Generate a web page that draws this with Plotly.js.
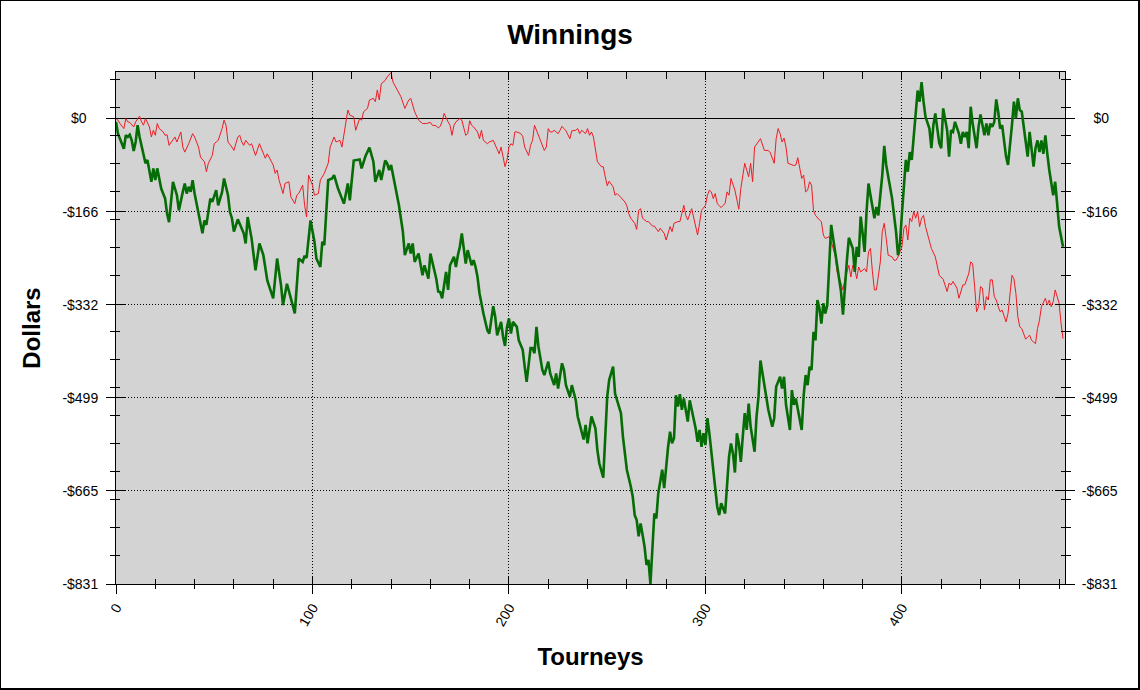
<!DOCTYPE html>
<html>
<head>
<meta charset="utf-8">
<script src="https://cdn.plot.ly/plotly-3.0.1.min.js"></script>
<style>
    html, body { margin: 0; padding: 0; background: #ffffff; }
    #wrap { position: relative; width: 1140px; height: 690px; }
    #chart { width: 1140px; height: 690px; }
    #frame {
        position: absolute; left: 0; top: 0; right: 0; bottom: 0;
        border-left: 1px solid #000; border-top: 1px solid #000;
        border-right: 2px solid #000; border-bottom: 2px solid #000;
        pointer-events: none;
    }
</style>
</head>
<body>
<div id="wrap">
    <div id="chart"></div>
    <div id="frame"></div>
</div>
<script>
// Running total (in dollars) after each tourney: [tourney, dollars].
const greenPoints = [
    [0,-6],[1,-27],[4,-54],[5,-30],[6,-33],[7,-29],[8,-39],[9,-58],[10,-42],[11,-12],
    [12,-33],[13,-48],[15,-80],[16,-74],[18,-113],[19,-89],[20,-110],[21,-89],[22,-107],[23,-125],
    [25,-143],[26,-170],[27,-185],[28,-149],[29,-113],[31,-137],[32,-164],[34,-131],[35,-116],[36,-134],
    [37,-122],[38,-131],[39,-110],[40,-134],[42,-167],[44,-205],[45,-182],[46,-190],[48,-143],[49,-149],
    [51,-128],[52,-155],[54,-131],[55,-107],[57,-137],[58,-167],[59,-178],[60,-202],[62,-180],[65,-205],
    [66,-223],[67,-176],[69,-214],[71,-271],[73,-223],[75,-244],[77,-289],[80,-321],[82,-250],[84,-298],
    [85,-333],[87,-295],[89,-321],[91,-348],[93,-250],[95,-256],[96,-245],[97,-249],[99,-182],[101,-220],
    [102,-250],[104,-265],[105,-220],[106,-226],[108,-110],[110,-107],[111,-101],[113,-125],[115,-143],[116,-152],
    [118,-116],[119,-146],[121,-75],[124,-73],[125,-89],[127,-67],[129,-52],[131,-77],[132,-113],[134,-92],
    [135,-110],[137,-75],[138,-80],[139,-92],[140,-83],[144,-155],[146,-202],[147,-244],[149,-223],[150,-241],
    [151,-223],[152,-256],[154,-241],[156,-280],[157,-262],[159,-286],[160,-241],[162,-271],[163,-286],[164,-309],
    [165,-310],[166,-321],[168,-274],[169,-306],[170,-262],[172,-247],[173,-265],[174,-244],[175,-229],[176,-205],
    [177,-232],[178,-259],[179,-235],[181,-262],[182,-253],[183,-265],[184,-283],[185,-312],[187,-348],[189,-378],
    [190,-384],[191,-354],[192,-335],[193,-354],[194,-387],[196,-363],[197,-390],[198,-406],[199,-372],[200,-357],
    [201,-384],[202,-363],[204,-372],[205,-396],[207,-413],[208,-443],[209,-470],[211,-410],[212,-410],[213,-419],
    [214,-372],[215,-407],[216,-425],[217,-449],[218,-458],[220,-434],[221,-455],[223,-476],[224,-455],[225,-482],
    [227,-437],[228,-449],[229,-476],[231,-497],[232,-476],[234,-503],[235,-532],[237,-562],[238,-573],[239,-547],
    [240,-580],[242,-532],[244,-553],[245,-592],[246,-616],[248,-641],[249,-562],[250,-497],[251,-467],[253,-443],
    [254,-491],[255,-503],[257,-526],[258,-568],[259,-598],[260,-627],[262,-657],[263,-675],[264,-708],[265,-717],
    [266,-746],[267,-723],[268,-743],[269,-764],[270,-797],[271,-788],[272,-831],[273,-776],[274,-705],[275,-714],
    [276,-669],[278,-627],[279,-660],[281,-586],[282,-559],[283,-580],[284,-571],[285,-494],[286,-514],[287,-492],
    [288,-520],[289,-500],[291,-541],[292,-503],[293,-520],[295,-553],[296,-577],[297,-556],[298,-586],[299,-562],
    [300,-583],[301,-535],[302,-562],[303,-592],[304,-627],[305,-663],[306,-693],[307,-708],[308,-687],[310,-705],
    [311,-645],[312,-604],[313,-580],[314,-598],[315,-632],[316,-562],[317,-580],[318,-613],[319,-568],[320,-526],
    [321,-556],[322,-509],[323,-550],[325,-595],[326,-532],[327,-497],[328,-432],[329,-455],[331,-497],[332,-520],
    [334,-550],[335,-535],[336,-479],[338,-461],[339,-482],[340,-461],[341,-511],[343,-556],[344,-485],[345,-511],
    [346,-500],[347,-517],[349,-556],[350,-494],[351,-458],[352,-476],[353,-443],[354,-449],[355,-381],[356,-396],
    [357,-324],[358,-339],[359,-366],[360,-330],[361,-348],[362,-333],[363,-256],[364,-190],[365,-214],[367,-265],
    [368,-285],[369,-309],[370,-350],[371,-291],[372,-253],[373,-213],[375,-232],[376,-274],[377,-229],[378,-247],
    [379,-175],[380,-205],[381,-238],[382,-166],[383,-116],[384,-137],[386,-178],[387,-158],[388,-173],[390,-101],
    [391,-49],[392,-83],[394,-125],[395,-143],[396,-173],[397,-202],[398,-244],[399,-223],[400,-170],[401,-119],
    [402,-74],[403,-95],[404,-60],[405,-74],[406,-36],[407,12],[408,50],[409,30],[410,65],[411,30],
    [412,3],[414,-18],[415,-53],[416,-12],[417,9],[418,-18],[419,-44],[420,-53],[421,18],[423,-21],
    [424,-68],[425,-21],[426,-24],[427,-6],[429,-27],[430,-45],[431,-24],[432,-33],[433,-24],[434,-53],
    [435,21],[436,-9],[438,-53],[439,-15],[440,7],[441,-12],[442,-30],[443,-9],[444,-30],[445,-9],
    [446,-15],[447,-6],[448,34],[449,12],[450,-18],[451,-12],[452,-45],[453,-68],[454,-83],[455,-51],
    [456,-12],[457,30],[458,0],[459,36],[460,15],[461,12],[462,-12],[463,-36],[464,-68],[465,-24],
    [466,-56],[467,-86],[468,-53],[469,-39],[470,-60],[471,-39],[472,-63],[473,-30],[474,-63],[475,-92],
    [477,-137],[478,-113],[479,-152],[480,-193],[482,-229]
];

const redPoints = [
    [0,0],[1,-3],[2,-9],[4,-18],[5,0],[6,-6],[7,-7],[9,-15],[10,-6],[12,4],
    [13,-6],[14,-12],[15,0],[17,-15],[18,-33],[19,-21],[20,-30],[21,-9],[22,-18],[24,-24],
    [25,-30],[26,-29],[27,-48],[29,-39],[30,-33],[31,-42],[33,-24],[34,-51],[35,-60],[37,-45],
    [39,-27],[40,-33],[42,-51],[43,-69],[45,-77],[46,-95],[47,-80],[49,-66],[50,-45],[51,-42],
    [52,-39],[54,-18],[55,-3],[56,-12],[57,-42],[59,-51],[60,-57],[62,-33],[63,-30],[64,-42],
    [65,-48],[66,-39],[68,-48],[69,-45],[70,-54],[71,-66],[73,-45],[74,-54],[76,-71],[77,-63],
    [79,-77],[80,-83],[81,-98],[82,-92],[83,-110],[85,-134],[86,-116],[88,-113],[89,-140],[91,-152],
    [92,-137],[93,-134],[95,-119],[96,-155],[97,-176],[98,-101],[100,-119],[101,-137],[103,-134],[104,-110],
    [106,-98],[108,-80],[109,-51],[111,-33],[112,-42],[114,-39],[115,-51],[116,-30],[118,15],[119,6],
    [121,3],[122,-21],[124,0],[125,-3],[126,12],[128,18],[129,33],[131,36],[132,30],[133,51],
    [134,33],[135,62],[137,68],[138,74],[140,82],[141,65],[143,51],[145,39],[147,18],[149,33],
    [150,36],[152,12],[154,-3],[156,-9],[158,-9],[160,-7],[161,-12],[163,-13],[164,-17],[165,-14],
    [166,-5],[167,9],[169,-6],[170,-12],[171,-30],[172,-12],[173,-6],[175,0],[176,-3],[178,-30],
    [179,-27],[180,-4],[181,-12],[182,-15],[184,-24],[185,-36],[186,-21],[187,-39],[189,-45],[190,-42],
    [192,-39],[193,-48],[195,-63],[196,-51],[197,-71],[198,-86],[199,-74],[200,-51],[201,-45],[202,-48],
    [203,-24],[204,-24],[206,-27],[207,-32],[208,-51],[210,-66],[211,-48],[212,-39],[213,-12],[214,-21],
    [216,-39],[217,-48],[218,-57],[219,-51],[220,-18],[221,-24],[222,-24],[223,-21],[225,-27],[226,-21],
    [227,-14],[228,-18],[229,-22],[231,-36],[232,-22],[234,-21],[235,-18],[236,-27],[237,-21],[239,-27],
    [240,-18],[241,-30],[242,-24],[243,-33],[244,-54],[245,-77],[247,-86],[248,-86],[249,-104],[250,-120],
    [251,-112],[253,-122],[254,-137],[255,-134],[257,-141],[259,-149],[260,-156],[261,-170],[262,-178],[264,-187],
    [265,-198],[266,-164],[267,-161],[268,-178],[270,-184],[271,-184],[273,-192],[274,-192],[276,-202],[277,-196],
    [279,-205],[280,-217],[282,-193],[283,-202],[284,-187],[286,-184],[287,-184],[289,-155],[290,-173],[291,-181],
    [293,-161],[294,-175],[295,-193],[296,-208],[297,-187],[298,-164],[300,-155],[301,-137],[302,-128],[303,-131],
    [304,-143],[305,-134],[306,-152],[308,-159],[309,-155],[310,-152],[311,-131],[312,-137],[313,-107],[314,-116],
    [315,-128],[317,-162],[318,-125],[320,-80],[321,-92],[322,-104],[323,-80],[324,-113],[325,-51],[327,-42],
    [328,-36],[330,-57],[332,-57],[333,-61],[335,-80],[336,-36],[337,-18],[338,-27],[339,-42],[340,-35],
    [341,-51],[342,-80],[344,-83],[345,-84],[346,-83],[347,-70],[349,-107],[350,-101],[351,-131],[352,-128],
    [353,-113],[354,-119],[355,-164],[356,-173],[358,-181],[359,-184],[360,-208],[361,-214],[363,-211],[364,-220],
    [366,-244],[367,-274],[369,-294],[370,-306],[371,-286],[373,-262],[374,-283],[375,-262],[376,-268],[377,-286],
    [378,-265],[379,-274],[381,-268],[382,-274],[383,-238],[384,-232],[385,-274],[386,-306],[387,-306],[389,-256],
    [390,-202],[391,-187],[392,-214],[393,-244],[395,-247],[396,-253],[397,-253],[398,-247],[400,-229],[401,-196],
    [402,-190],[403,-217],[404,-178],[405,-184],[406,-166],[407,-178],[408,-166],[409,-193],[410,-178],[411,-173],
    [412,-193],[414,-220],[415,-232],[417,-247],[418,-265],[419,-280],[421,-287],[422,-300],[423,-309],[424,-294],
    [425,-297],[426,-291],[428,-303],[429,-321],[430,-309],[431,-297],[432,-297],[434,-277],[435,-256],[436,-259],
    [437,-300],[438,-345],[439,-336],[440,-300],[441,-303],[442,-342],[443,-318],[444,-324],[445,-288],[446,-288],
    [447,-318],[448,-324],[449,-336],[450,-345],[451,-342],[452,-354],[453,-363],[454,-348],[455,-318],[456,-280],
    [457,-286],[458,-312],[459,-354],[460,-372],[461,-375],[463,-394],[464,-390],[465,-387],[466,-396],[467,-399],
    [468,-402],[469,-375],[470,-360],[471,-336],[473,-321],[474,-333],[475,-324],[476,-336],[477,-327],[478,-306],
    [479,-318],[480,-330],[481,-366],[482,-393]
];

// Axis ticks.
const xTickVals = [0, 100, 200, 300, 400];
const xMinorVals = [20, 40, 60, 80, 120, 140, 160, 180, 220, 240, 260, 280, 320, 340, 360, 380, 420, 440, 460, 480];
const yTickVals = [0, -166.2, -332.4, -498.6, -664.8, -831];
const yTickText = ['$0', '-$166', '-$332', '-$499', '-$665', '-$831'];
const yMinorVals = [69, 19, -31, -81, -131, -181, -231, -281, -381, -431, -481, -531, -581, -631, -681, -731, -781];

const xRange = [0, 483];
const yRange = [-831, 83];

// The short "$0" label is centred under the longer ones, so pad it with no-break spaces.
const pad = '\u00A0\u00A0\u00A0';
const yTickTextLeft = yTickText.map(t => t.length < 4 ? t + pad : t);
const yTickTextRight = yTickText.map(t => t.length < 4 ? pad + t : t);

const tickFont = { family: 'Liberation Sans, Arial, sans-serif', size: 14, color: '#000000' };
const titleFont = { family: 'Liberation Sans, Arial, sans-serif', size: 24, color: '#000000', weight: 'bold' };

// Shared look of the overlay axes that only carry extra tick marks.
function tickOnlyAxis(extra) {
    return Object.assign({
        range: xRange, fixedrange: true, showgrid: false, zeroline: false,
        showticklabels: false, showline: false, tickcolor: '#000000'
    }, extra);
}

const traces = [
    {
        x: redPoints.map(p => p[0]),
        y: redPoints.map(p => p[1]),
        type: 'scatter', mode: 'lines',
        line: { color: '#ee1c24', width: 1 },
        hoverinfo: 'x+y'
    },
    {
        x: greenPoints.map(p => p[0]),
        y: greenPoints.map(p => p[1]),
        type: 'scatter', mode: 'lines',
        line: { color: '#066c06', width: 2.6 },
        hoverinfo: 'x+y'
    },
    // Empty traces so the tick-only overlay axes get drawn.
    { x: [], y: [], xaxis: 'x2', yaxis: 'y2', type: 'scatter', hoverinfo: 'skip' },
    { x: [], y: [], xaxis: 'x3', yaxis: 'y3', type: 'scatter', hoverinfo: 'skip' },
    { x: [], y: [], xaxis: 'x2', yaxis: 'y4', type: 'scatter', hoverinfo: 'skip' }
];

const layout = {
    width: 1140,
    height: 690,
    margin: { l: 116, r: 75, t: 72, b: 106 },
    paper_bgcolor: '#ffffff',
    plot_bgcolor: '#d3d3d3',
    showlegend: false,
    title: {
        text: 'Winnings',
        font: { family: 'Liberation Sans, Arial, sans-serif', size: 28, color: '#000000', weight: 'bold' },
        x: 0.5, xref: 'container', xanchor: 'center',
        y: 1 - 34 / 690, yref: 'container', yanchor: 'middle'
    },
    xaxis: {
        range: xRange, fixedrange: true,
        tickvals: xTickVals, ticks: 'outside', ticklen: 9, tickcolor: '#000000',
        tickangle: -60, tickfont: tickFont,
        showgrid: true, gridcolor: '#000000', gridwidth: 1, griddash: '1px,2px',
        zeroline: false,
        showline: true, linecolor: '#000000', linewidth: 1, mirror: true,
        minor: { tickvals: xMinorVals, ticks: 'outside', ticklen: 4, tickcolor: '#000000', showgrid: false },
        title: { text: 'Tourneys', font: titleFont, standoff: 20 }
    },
    xaxis2: tickOnlyAxis({
        overlaying: 'x', anchor: 'y', side: 'bottom',
        tickvals: xTickVals, ticks: 'inside', ticklen: 8,
        minor: { tickvals: xMinorVals, ticks: 'inside', ticklen: 5, tickcolor: '#000000', showgrid: false }
    }),
    xaxis3: tickOnlyAxis({
        overlaying: 'x', anchor: 'y', side: 'top',
        tickvals: xTickVals, ticks: 'inside', ticklen: 8,
        minor: { tickvals: xMinorVals, ticks: 'inside', ticklen: 7, tickcolor: '#000000', showgrid: false }
    }),
    yaxis: {
        range: yRange, fixedrange: true,
        tickvals: yTickVals, ticktext: yTickTextLeft,
        ticks: 'outside', ticklen: 9, tickcolor: '#000000', tickfont: tickFont,
        ticklabelstandoff: 5,
        showgrid: true, gridcolor: '#000000', gridwidth: 1, griddash: '1px,2px',
        zeroline: true, zerolinecolor: '#000000', zerolinewidth: 1,
        showline: true, linecolor: '#000000', linewidth: 1, mirror: true,
        minor: { tickvals: yMinorVals, ticks: 'outside', ticklen: 5, tickcolor: '#000000', showgrid: false },
        title: { text: 'Dollars', font: titleFont, standoff: 14 }
    },
    yaxis2: tickOnlyAxis({
        range: yRange, overlaying: 'y', anchor: 'x', side: 'left',
        tickvals: yTickVals, ticks: 'inside', ticklen: 9,
        minor: { tickvals: yMinorVals, ticks: 'inside', ticklen: 4, tickcolor: '#000000', showgrid: false }
    }),
    yaxis3: tickOnlyAxis({
        range: yRange, overlaying: 'y', anchor: 'x', side: 'right',
        tickvals: yTickVals, ticktext: yTickTextRight, showticklabels: true, tickfont: tickFont,
        ticklabelstandoff: 4,
        ticks: 'outside', ticklen: 9,
        minor: { tickvals: yMinorVals, ticks: 'outside', ticklen: 5, tickcolor: '#000000', showgrid: false }
    }),
    yaxis4: tickOnlyAxis({
        range: yRange, overlaying: 'y', anchor: 'x', side: 'right',
        tickvals: yTickVals, ticks: 'inside', ticklen: 9,
        minor: { tickvals: yMinorVals, ticks: 'inside', ticklen: 4, tickcolor: '#000000', showgrid: false }
    })
};

Plotly.newPlot(document.getElementById('chart'), traces, layout, { displayModeBar: false, staticPlot: true });
</script>
</body>
</html>
